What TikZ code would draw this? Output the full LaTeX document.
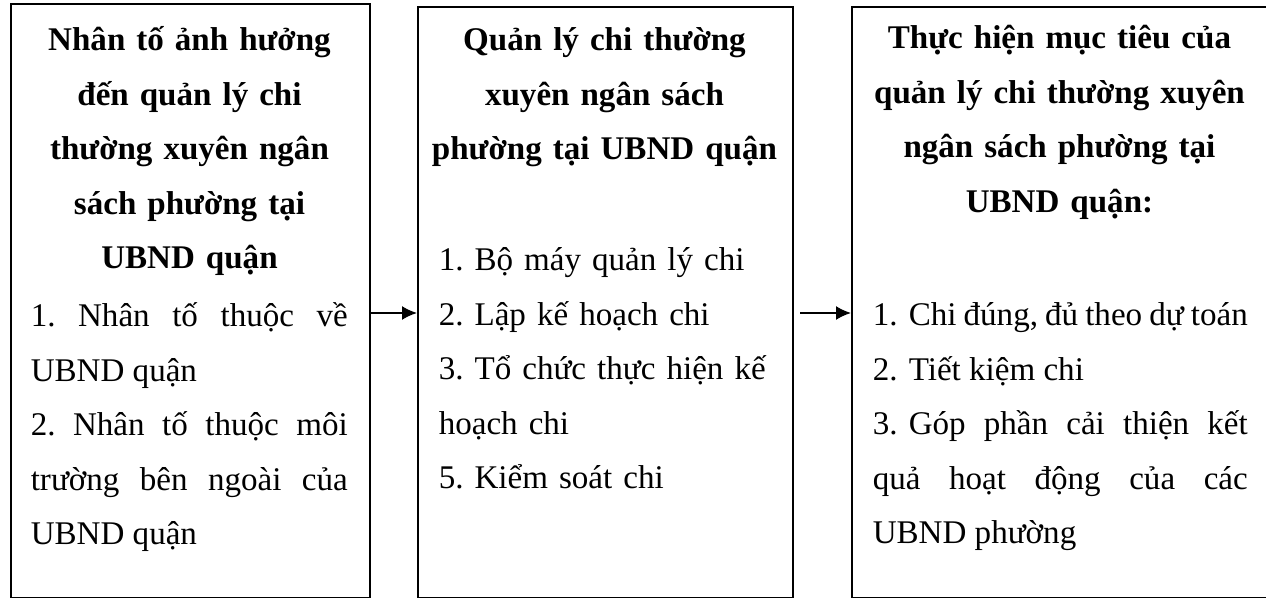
\documentclass[tikz,border=0pt]{standalone}
\usepackage{fontspec}
\setmainfont{Liberation Serif}
\usetikzlibrary{positioning, arrows.meta}

\newcommand{\pxu}{0.375pt}
\newcommand{\boxfont}{\fontsize{12.4pt}{20.44pt}\selectfont\frenchspacing}
\newlength{\numw}
\setlength{\numw}{13.5pt}

\begin{document}
\begin{tikzpicture}[x=0.375pt, y=-0.375pt, line width=0.6pt,
		>={Latex[length=5.6pt, width=5.2pt]},
		box/.style = {draw, inner sep=0pt, anchor=north west},
		head/.style = {font=\boxfont\bfseries, align=center, inner sep=0pt, anchor=north},
		body/.style = {font=\boxfont, inner sep=0pt, anchor=north west}]
		\useasboundingbox (0,0) rectangle (1266,598);
		\hyphenpenalty=10000
		
		% the three boxes
		\node[box, minimum width=359*\pxu, minimum height=594*\pxu] (b1) at (10,3) {};
		\node[box, minimum width=375*\pxu, minimum height=591*\pxu] (b2) at (417,6) {};
		\node[box, minimum width=417*\pxu, minimum height=591*\pxu] (b3) at (851,6) {};
		
		% texts of the boxes
		\node[head, text width=317*\pxu] (h1) at (189.5,12) {\strut Nhân tố ảnh hưởng\\ đến quản lý chi\\ thường xuyên ngân\\ sách phường tại\\ UBND quận};
		\node[body, text width=317*\pxu, align=justify] (t1) at (30,288) {\strut 1. Nhân tố thuộc về\linebreak UBND quận\par 2. Nhân tố thuộc môi\linebreak trường bên ngoài của\linebreak UBND quận};
		
		\node[head, text width=370*\pxu] (h2) at (604.5,12) {\strut Quản lý chi thường\\ xuyên ngân sách\\ phường tại UBND quận};
		\node[body, text width=340*\pxu, align=left] (t2) at (438,232) {\strut 1. Bộ máy quản lý chi\\ 2. Lập kế hoạch chi\\ 3. Tổ chức thực hiện kế\\ hoạch chi\\ 5. Kiểm soát chi};
		
		\node[head, text width=400*\pxu] (h3) at (1059.5,10) {\strut Thực hiện mục tiêu của\\ quản lý chi thường xuyên\\ ngân sách phường tại\\ UBND quận:};
		\node[body, text width=375*\pxu, align=justify] (t3) at (872,287) {%
			\noindent\hangindent=\numw\hangafter=1\strut\makebox[\numw][l]{1.}Chi đúng, đủ theo dự toán\par
			\noindent\hangindent=\numw\hangafter=1\makebox[\numw][l]{2.}Tiết kiệm chi\par
			\noindent\hangindent=\numw\hangafter=1\makebox[\numw][l]{3.}Góp phần cải thiện kết\linebreak quả hoạt động của các\linebreak UBND phường};
		
		% arrows
		\coordinate (s2) at (800,313);
		\draw[->] (b1.east |- s2) -- (b2.west |- s2);
		\draw[->] (s2) -- (b3.west |- s2);
	\end{tikzpicture}
\end{document}
